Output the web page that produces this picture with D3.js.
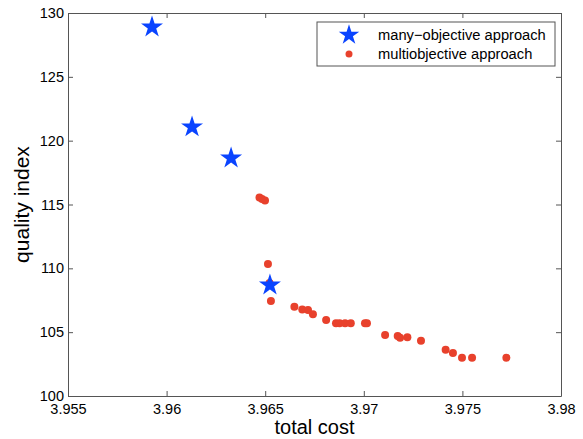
<!DOCTYPE html>
<html>
<head>
<meta charset="utf-8">
<style>
body { margin: 0; background: #fff; }
svg text { font-family: "Liberation Sans", Arial, sans-serif; fill: #000; }
</style>
</head>
<body>
<div id="chart"></div>
<script src="https://d3js.org/d3.v7.min.js"></script>
<script>
// many-objective approach (stars)
var manyCost = [3.95926, 3.96129, 3.96327, 3.96524];
var manyQuality = [128.9, 121.07, 118.64, 108.69];

// multiobjective approach (dots)
var multiCost = [3.96471, 3.96484, 3.96499, 3.96514, 3.96522, 3.96529, 3.96648, 3.96688,
                 3.96717, 3.96742, 3.96809, 3.96859, 3.96877, 3.96905, 3.96934, 3.97006,
                 3.97016, 3.97108, 3.97172, 3.97184, 3.97221, 3.97290, 3.97415, 3.97452,
                 3.97498, 3.97549, 3.97723];
var multiQuality = [115.55, 115.43, 115.31, 110.34, 108.85, 107.44, 106.99, 106.78,
                    106.74, 106.40, 105.95, 105.69, 105.69, 105.69, 105.69, 105.69,
                    105.69, 104.78, 104.70, 104.57, 104.60, 104.33, 103.63, 103.37,
                    103.00, 103.00, 103.00];

var xTicks = [3.955, 3.96, 3.965, 3.97, 3.975, 3.98];
var xTickLabels = ["3.955", "3.96", "3.965", "3.97", "3.975", "3.98"];
var yTicks = [100, 105, 110, 115, 120, 125, 130];
var legendLabels = ["many\u2212objective approach", "multiobjective approach"];

var W = 583, H = 439;
var margin = { top: 13, right: 22, bottom: 43, left: 68 };
var width = W - margin.left - margin.right;
var height = H - margin.top - margin.bottom;

var blue = "#0a44ff", red = "#e8412c";

var svg = d3.select("#chart").append("svg")
    .attr("width", W).attr("height", H);
var g = svg.append("g")
    .attr("transform", "translate(" + margin.left + "," + margin.top + ")");

var x = d3.scaleLinear().domain([3.955, 3.98]).range([0, width]);
var y = d3.scaleLinear().domain([100, 130]).range([height, 0]);

// axes, ticks pointing inward, mirrored on top/right
function styleAxis(sel) {
  sel.select(".domain").attr("stroke", "#555");
  sel.selectAll(".tick line").attr("stroke", "#555");
  sel.selectAll("text").style("font-size", "14.5px").attr("fill", "#000");
}
g.append("g").attr("transform", "translate(0," + height + ")")
  .call(d3.axisBottom(x).tickValues(xTicks).tickSizeInner(-5).tickSizeOuter(0).tickPadding(8)
        .tickFormat(function(d, i) { return xTickLabels[i]; }))
  .call(styleAxis);
g.append("g")
  .call(d3.axisLeft(y).tickValues(yTicks).tickSizeInner(-5).tickSizeOuter(0).tickPadding(4))
  .call(styleAxis);
g.append("g")
  .call(d3.axisTop(x).tickValues(xTicks).tickSizeInner(-5).tickSizeOuter(0).tickFormat(""))
  .call(styleAxis);
g.append("g").attr("transform", "translate(" + width + ",0)")
  .call(d3.axisRight(y).tickValues(yTicks).tickSizeInner(-5).tickSizeOuter(0).tickFormat(""))
  .call(styleAxis);

// axis labels
svg.append("text")
  .attr("x", margin.left + x(3.9675)).attr("y", 434)
  .attr("text-anchor", "middle").style("font-size", "20px")
  .text("total cost");
svg.append("text")
  .attr("transform", "translate(29," + (margin.top + height / 2) + ") rotate(-90)")
  .attr("text-anchor", "middle").style("font-size", "21px")
  .text("quality index");

var star = d3.symbol().type(d3.symbolStar).size(150);

// multiobjective dots
g.selectAll(".dot").data(multiCost).enter().append("circle")
  .attr("cx", function(d) { return x(d); })
  .attr("cy", function(d, i) { return y(multiQuality[i]); })
  .attr("r", 4)
  .attr("fill", red);

// many-objective stars
g.selectAll(".star").data(manyCost).enter().append("path")
  .attr("d", star)
  .attr("transform", function(d, i) { return "translate(" + x(d) + "," + y(manyQuality[i]) + ")"; })
  .attr("fill", blue);

// legend
var lg = svg.append("g").attr("transform", "translate(317,22)");
lg.append("rect").attr("width", 238).attr("height", 44)
  .attr("fill", "#fff").attr("stroke", "#555");
lg.append("path").attr("d", d3.symbol().type(d3.symbolStar).size(130))
  .attr("transform", "translate(32,13)").attr("fill", blue);
lg.append("circle").attr("cx", 32).attr("cy", 32).attr("r", 3.5).attr("fill", red);
lg.selectAll(".lt").data(legendLabels).enter().append("text")
  .attr("x", 61).attr("y", function(d, i) { return 18 + i * 19; })
  .style("font-size", "14.7px")
  .text(function(d) { return d; });
</script>
</body>
</html>
